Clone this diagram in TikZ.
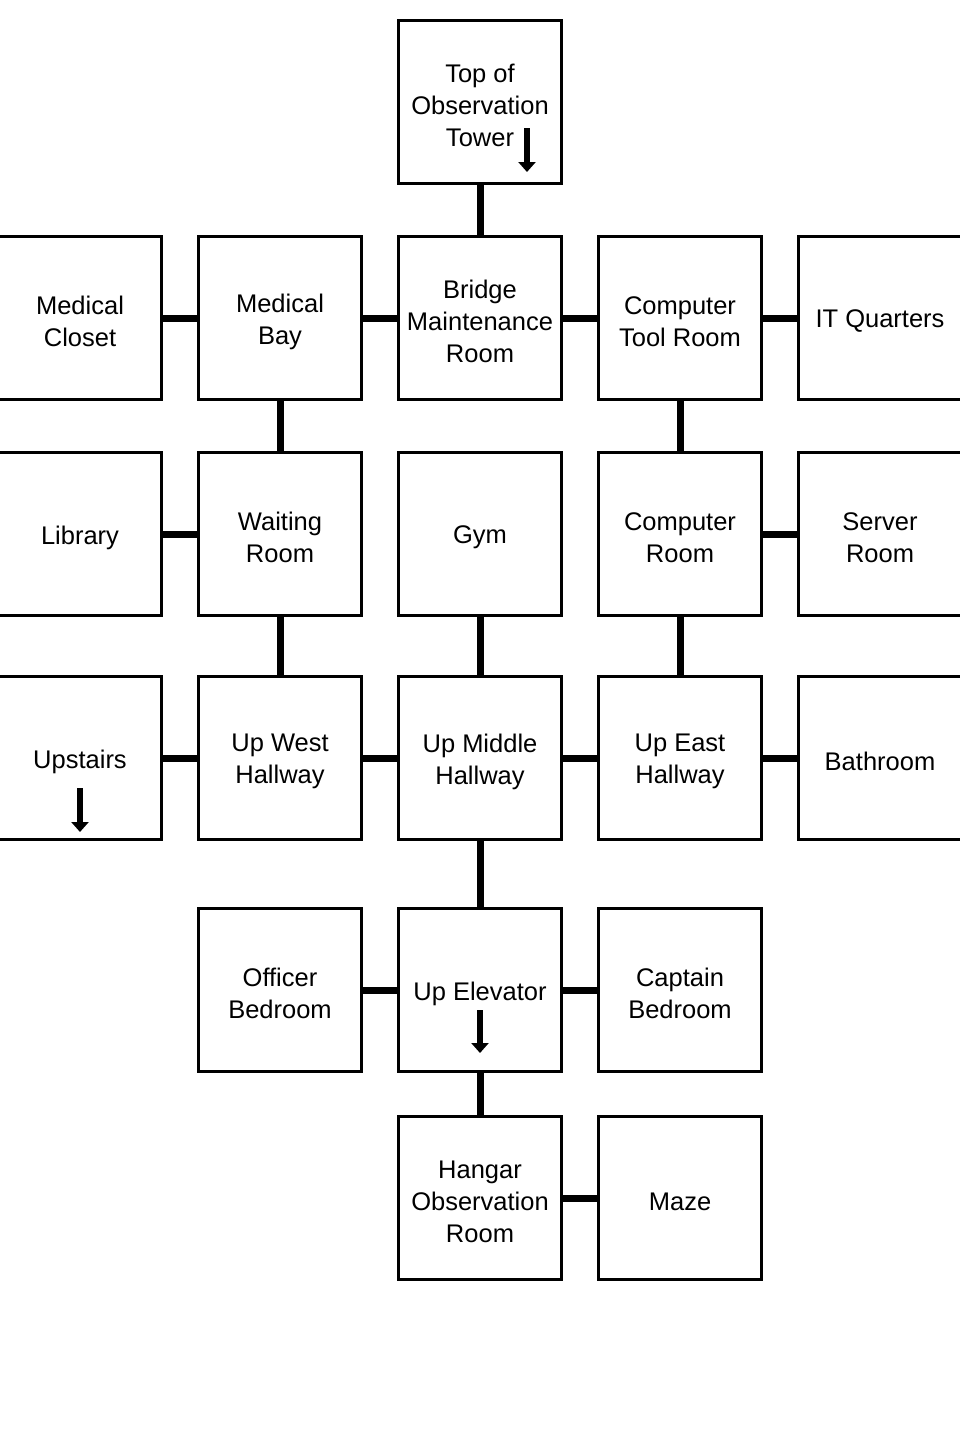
\documentclass[tikz,border=0pt]{standalone}
\usepackage{fontspec}
\setmainfont{Liberation Sans}
\usetikzlibrary{arrows.meta}
\begin{document}
\begin{tikzpicture}[x=1pt,y=-1pt,
  txt/.style={align=center,inner sep=0pt,font=\fontsize{25.5}{32}\selectfont},
  room/.style={draw=black,line width=3pt,fill=white,minimum width=163pt,minimum height=163pt,inner sep=0pt,
    label={[txt,yshift=-3.5pt]center:#1}},
  link/.style={line width=7pt,black},
  down/.style={line width=6.5pt,-{Triangle[width=17pt,length=10pt]}}]
\useasboundingbox (0,0) rectangle (960,1440);
\fill[white] (0,0) rectangle (960,1440);
% row 0
\node[room={Top of\\Observation\\Tower}] (top) at (480,102) {};
% row 1
\node[room={Medical\\Closet}] (mcl) at (80,318) {};
\node[room={Medical\\Bay}] (mbay) at (280,318) {};
\node[room={Bridge\\Maintenance\\Room}] (bridge) at (480,318) {};
\node[room={Computer\\Tool Room}] (ctool) at (680,318) {};
\node[room={IT Quarters}] (itq) at (880,318) {};
% row 2
\node[room={Library}] (lib) at (80,534) {};
\node[room={Waiting\\Room}] (wait) at (280,534) {};
\node[room={Gym}] (gym) at (480,534) {};
\node[room={Computer\\Room}] (croom) at (680,534) {};
\node[room={Server\\Room}] (server) at (880,534) {};
% row 3
\node[room={Upstairs}] (upst) at (80,758) {};
\node[room={Up West\\Hallway}] (uwest) at (280,758) {};
\node[room={Up Middle\\Hallway}] (umid) at (480,758) {};
\node[room={Up East\\Hallway}] (ueast) at (680,758) {};
\node[room={Bathroom}] (bath) at (880,758) {};
% row 4
\node[room={Officer\\Bedroom}] (officer) at (280,990) {};
\node[room={Up Elevator}] (uelev) at (480,990) {};
\node[room={Captain\\Bedroom}] (captain) at (680,990) {};
% row 5
\node[room={Hangar\\Observation\\Room}] (hangar) at (480,1198) {};
\node[room={Maze}] (maze) at (680,1198) {};
% arrows
\coordinate (a1s) at (527,128); \coordinate (a1e) at (527,172);
\draw[down] (a1s) -- (a1e);
\coordinate (a2s) at (80,788); \coordinate (a2e) at (80,832);
\draw[down] (a2s) -- (a2e);
\coordinate (a3s) at (480,1010); \coordinate (a3e) at (480,1053);
\draw[down] (a3s) -- (a3e);
% vertical links
\draw[link] (top.south) -- (bridge.north);
\draw[link] (mbay.south) -- (wait.north);
\draw[link] (wait.south) -- (uwest.north);
\draw[link] (gym.south) -- (umid.north);
\draw[link] (ctool.south) -- (croom.north);
\draw[link] (croom.south) -- (ueast.north);
\draw[link] (umid.south) -- (uelev.north);
\draw[link] (uelev.south) -- (hangar.north);
% horizontal links
\draw[link] (mcl.east) -- (mbay.west);
\draw[link] (mbay.east) -- (bridge.west);
\draw[link] (bridge.east) -- (ctool.west);
\draw[link] (ctool.east) -- (itq.west);
\draw[link] (lib.east) -- (wait.west);
\draw[link] (croom.east) -- (server.west);
\draw[link] (upst.east) -- (uwest.west);
\draw[link] (uwest.east) -- (umid.west);
\draw[link] (umid.east) -- (ueast.west);
\draw[link] (ueast.east) -- (bath.west);
\draw[link] (officer.east) -- (uelev.west);
\draw[link] (uelev.east) -- (captain.west);
\draw[link] (hangar.east) -- (maze.west);
\end{tikzpicture}
\end{document}
